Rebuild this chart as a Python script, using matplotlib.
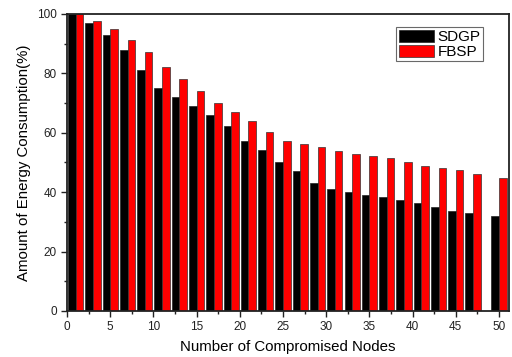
import numpy as np
import matplotlib
matplotlib.use("Agg")
import matplotlib.pyplot as plt
from matplotlib.ticker import MultipleLocator

plt.rcParams['font.family'] = ['Liberation Sans', 'DejaVu Sans']

nodes = [1, 3, 5, 7, 9, 11, 13, 15, 17, 19, 21, 23, 25,
         27, 29, 31, 33, 35, 37, 39, 41, 43, 45, 47, 50]
sdgp = [100, 97.0, 93.0, 88.0, 81.0, 75.1, 71.9, 69.1, 66.0, 62.2, 57.2, 54.1, 50.2,
        47.1, 43.2, 41.0, 40.0, 39.0, 38.4, 37.2, 36.4, 35.1, 33.8, 33.1, 31.9]
fbsp = [100, 97.6, 95.0, 91.1, 87.1, 82.1, 78.1, 74.1, 70.0, 66.9, 64.1, 60.1, 57.1,
        56.3, 55.2, 53.7, 53.0, 52.3, 51.4, 50.2, 48.9, 48.0, 47.3, 46.1, 44.9]

x = np.array(nodes, dtype=float)
w = 0.88

fig = plt.figure(figsize=(5.12, 3.57), dpi=100)
ax = fig.add_axes([0.131, 0.129, 0.863, 0.832])

ax.bar(x - w / 2, sdgp, width=w, color="black", edgecolor="#222222",
       linewidth=0.5, label="SDGP")
ax.bar(x + w / 2, fbsp, width=w, color="#ff0000", edgecolor="#333333",
       linewidth=0.5, label="FBSP")

ax.set_xlim(0, 51.15)
ax.set_ylim(0, 100)
ax.xaxis.set_major_locator(MultipleLocator(5))
ax.xaxis.set_minor_locator(MultipleLocator(2.5))
ax.yaxis.set_major_locator(MultipleLocator(20))
ax.yaxis.set_minor_locator(MultipleLocator(10))
ax.tick_params(which="both", direction="out", top=False, right=False,
               labelsize=8.5, colors="#222222")
ax.tick_params(which="major", length=4, width=1)
ax.tick_params(which="minor", length=2.5, width=1)
for s in ax.spines.values():
    s.set_linewidth(1.3)
    s.set_color("#222222")

ax.set_xlabel("Number of Compromised Nodes", fontsize=10.8, labelpad=5)
ax.set_ylabel("Amount of Energy Consumption(%)", fontsize=10.8, labelpad=4)

leg = ax.legend(loc="upper right", bbox_to_anchor=(0.941, 0.955),
                fontsize=11, frameon=True, fancybox=False, edgecolor="#444444",
                handlelength=2.3, handleheight=0.85, borderpad=0.15,
                labelspacing=0.05, handletextpad=0.25, borderaxespad=0)
leg.get_frame().set_linewidth(0.8)

fig.savefig("out.png", dpi=100)
